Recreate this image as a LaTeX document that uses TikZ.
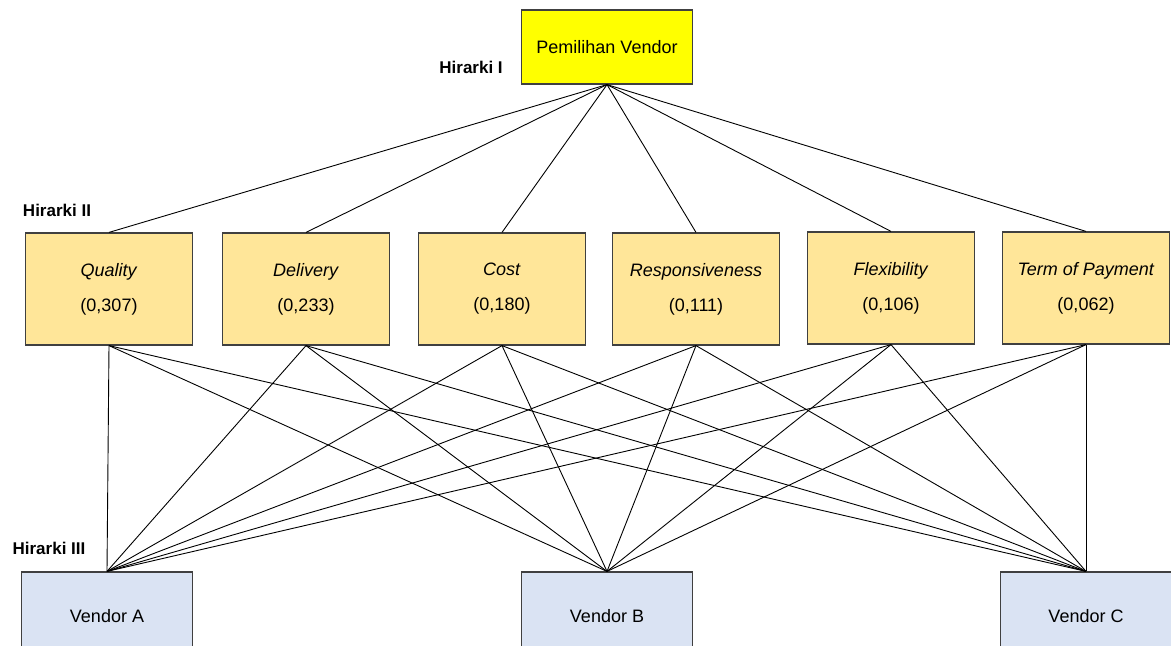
\documentclass[tikz,border=0pt]{standalone}
\usepackage{fontspec}
\setmainfont{Liberation Sans}
\usepackage{tikz}
\usetikzlibrary{positioning}

\definecolor{goalfill}{RGB}{255,255,0}
\definecolor{critfill}{RGB}{255,230,153}
\definecolor{altfill}{RGB}{218,227,243}

\tikzset{
	box/.style={draw=black!75, line width=1.2bp, inner sep=0pt, align=center,
		font=\fontsize{18bp}{35bp}\selectfont},
	goal/.style={box, fill=goalfill, minimum width=171bp, minimum height=74bp},
	crit/.style={box, fill=critfill, minimum width=167bp, minimum height=112bp},
	alt/.style={box, fill=altfill, minimum width=171bp, minimum height=88bp},
	level/.style={inner sep=0pt, font=\fontsize{17bp}{20bp}\selectfont\bfseries},
	edge/.style={line width=0.9bp, black}
}

\begin{document}
\begin{tikzpicture}
	\useasboundingbox (0bp,0bp) rectangle (1171bp,-646bp);

	\node (g0) at (607bp,-47bp) [goal] {Pemilihan Vendor};

	\node (c1) at (109bp,-289bp) [crit] {\textit{Quality}\\(0,307)};
	\node (c2) at (306bp,-289bp) [crit] {\textit{Delivery}\\(0,233)};
	\node (c3) at (502bp,-289bp) [crit] {\textit{Cost}\\(0,180)};
	\node (c4) at (696bp,-289bp) [crit] {\textit{Responsiveness}\\(0,111)};
	\node (c5) at (891bp,-288bp) [crit] {\textit{Flexibility}\\(0,106)};
	\node (c6) at (1086bp,-288bp) [crit] {\textit{Term of Payment}\\(0,062)};

	\node (a1) at (107bp,-616bp) [alt] {Vendor A};
	\node (a2) at (607bp,-616bp) [alt] {Vendor B};
	\node (a3) at (1086bp,-616bp) [alt] {Vendor C};

	\node (h1) [level, left=18bp of g0, yshift=-20bp] {Hirarki I};
	\node (h2) at (57bp,-210bp) [level] {Hirarki II};
	\node (h3) at (49bp,-548bp) [level] {Hirarki III};

	% hirarki I ke II
	\draw [edge] (g0.south) -- (c1.north);
	\draw [edge] (g0.south) -- (c2.north);
	\draw [edge] (g0.south) -- (c3.north);
	\draw [edge] (g0.south) -- (c4.north);
	\draw [edge] (g0.south) -- (c5.north);
	\draw [edge] (g0.south) -- (c6.north);

	% hirarki II ke III
	\draw [edge] (c1.south) -- (a1.north);
	\draw [edge] (c1.south) -- (a2.north);
	\draw [edge] (c1.south) -- (a3.north);
	\draw [edge] (c2.south) -- (a1.north);
	\draw [edge] (c2.south) -- (a2.north);
	\draw [edge] (c2.south) -- (a3.north);
	\draw [edge] (c3.south) -- (a1.north);
	\draw [edge] (c3.south) -- (a2.north);
	\draw [edge] (c3.south) -- (a3.north);
	\draw [edge] (c4.south) -- (a1.north);
	\draw [edge] (c4.south) -- (a2.north);
	\draw [edge] (c4.south) -- (a3.north);
	\draw [edge] (c5.south) -- (a1.north);
	\draw [edge] (c5.south) -- (a2.north);
	\draw [edge] (c5.south) -- (a3.north);
	\draw [edge] (c6.south) -- (a1.north);
	\draw [edge] (c6.south) -- (a2.north);
	\draw [edge] (c6.south) -- (a3.north);

\end{tikzpicture}
\end{document}
